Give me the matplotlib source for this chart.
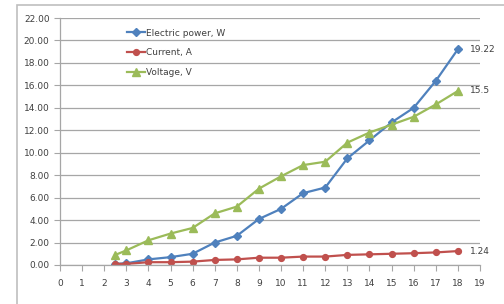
import matplotlib
matplotlib.use('Agg')
import matplotlib.pyplot as plt
from matplotlib.patches import Rectangle

# data
x = [2.5, 3, 4, 5, 6, 7, 8, 9, 10, 11, 12, 13, 14, 15, 16, 17, 18]
power = [0.1, 0.15, 0.5, 0.7, 1.0, 2.0, 2.6, 4.1, 5.0, 6.4, 6.9, 9.5, 11.1, 12.7, 14.0, 16.4, 19.22]
current = [0.1, 0.1, 0.25, 0.25, 0.3, 0.45, 0.5, 0.65, 0.65, 0.75, 0.75, 0.9, 0.95, 1.0, 1.05, 1.12, 1.24]
voltage = [0.9, 1.3, 2.2, 2.8, 3.3, 4.6, 5.2, 6.8, 7.9, 8.9, 9.2, 10.9, 11.8, 12.5, 13.2, 14.3, 15.5]
labels = ['Electric power, W', 'Current, A', 'Voltage, V']

blue = '#4F81BD'
red = '#C0504D'
green = '#9BBB59'
grid = '#A6A6A6'
txt = '#404040'

fig = plt.figure(figsize=(5.04, 3.04), dpi=100)
ax = fig.add_axes([60/504, 39/304, 420/504, 247/304])

# outer chart frame (cut off on right and bottom)
fig.add_artist(Rectangle((17/504, -0.1), 1.2, (304 - 5)/304 + 0.1,
                         transform=fig.transFigure, fill=False,
                         edgecolor='#BFBFBF', lw=1.2))

ax.plot(x, power, color=blue, marker='D', ms=4, lw=1.6, label=labels[0])
ax.plot(x, current, color=red, marker='o', ms=4.2, lw=1.6, label=labels[1])
ax.plot(x, voltage, color=green, marker='^', ms=5.5, lw=1.6, label=labels[2])

# end value labels
for ys in (power, current, voltage):
    v = ys[-1]
    ax.annotate(('%g' % v), (x[-1], v), xytext=(9, 0), textcoords='offset points',
                va='center', ha='left', fontsize=6.5, color=txt)

ax.set_xlim(0, 19)
ax.set_ylim(0, 22)
ax.set_xticks(range(0, 20))
ax.set_yticks(range(0, 23, 2))
ax.set_yticklabels(['%.2f' % v for v in range(0, 23, 2)])
ax.tick_params(labelsize=6.5, colors=grid, labelcolor=txt, length=4, width=0.8)
ax.tick_params(axis='x', pad=6)
ax.grid(axis='y', color=grid, lw=0.9)
ax.set_axisbelow(True)
for s in ['top', 'right']:
    ax.spines[s].set_visible(False)
for s in ['left', 'bottom']:
    ax.spines[s].set_color(grid)
    ax.spines[s].set_linewidth(0.9)

ax.legend(loc='upper left', bbox_to_anchor=(0.14, 0.99), frameon=False,
          fontsize=6.5, handlelength=2.0, handletextpad=0.1,
          labelspacing=1.2, labelcolor=txt)

fig.savefig('out.png', dpi=100)
